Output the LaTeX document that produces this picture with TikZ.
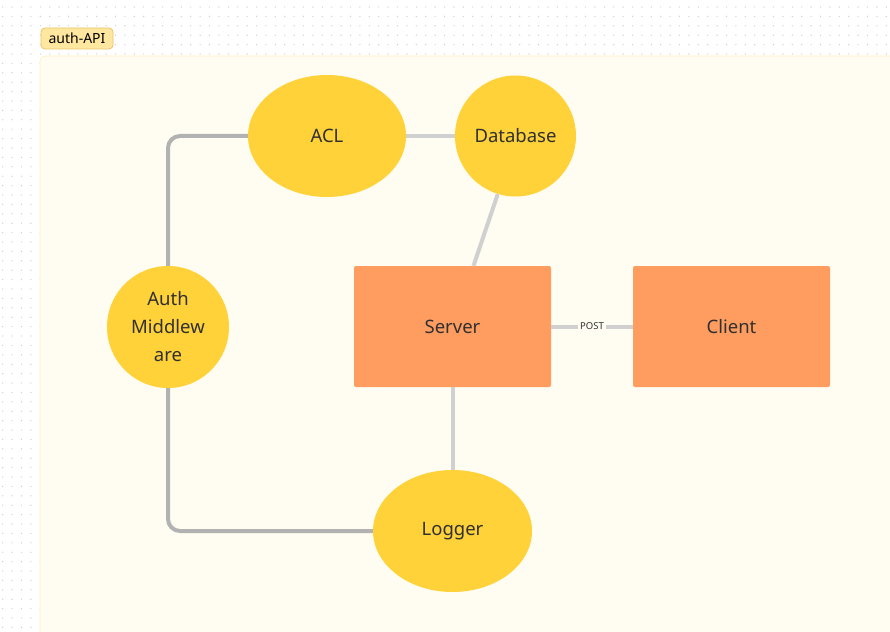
\documentclass[tikz,border=0pt]{standalone}
\usepackage{fontspec}
\setmainfont{Noto Sans}
\usetikzlibrary{shapes.geometric}
\definecolor{dotc}{HTML}{CFCFCF}
\definecolor{framefill}{HTML}{FFFDF1}
\definecolor{frameline}{HTML}{FFF1C2}
\definecolor{tagfill}{HTML}{FFE7A0}
\definecolor{tagline}{HTML}{EBC468}
\definecolor{yel}{HTML}{FFD23A}
\definecolor{ora}{HTML}{FF9D60}
\definecolor{txt}{HTML}{303030}
\definecolor{darkl}{HTML}{B2B2B2}
\definecolor{lightl}{HTML}{D0D0D0}
\tikzset{
  bubble/.style={ellipse, fill=yel, inner sep=0pt, text=txt, font=\fontsize{18.5}{28}\selectfont, align=center},
  boxnode/.style={rectangle, rounded corners=2pt, fill=ora, inner sep=0pt, minimum width=197pt, minimum height=121pt, text=txt, font=\fontsize{18.5}{28}\selectfont},
  darkline/.style={draw=darkl, line width=4pt, rounded corners=12pt},
  lightline/.style={draw=lightl, line width=4pt},
  tag/.style={rectangle, rounded corners=4pt, fill=tagfill, draw=tagline, line width=0.8pt, minimum width=72pt, minimum height=21pt, inner sep=0pt, font=\fontsize{14}{16}\selectfont, text=black},
  edgelabel/.style={fill=framefill, font=\fontsize{9.5}{11}\selectfont, text=txt, inner sep=2pt}
}
\begin{document}
\begin{tikzpicture}[x=1pt,y=-1pt]
\useasboundingbox (0,0) rectangle (890,631);
\fill[white] (0,0) rectangle (890,631);
\foreach \i in {0,...,94} {
  \foreach \j in {0,...,67} {
    \fill[dotc] (2.7+\i*9.4, 7+\j*9.4) circle[radius=0.7pt];
  }
}
\draw[fill=framefill, draw=frameline, line width=0.8pt, rounded corners=6pt] (40,56) rectangle (900,645);
\node[tag] (tag) at (77,38.5) {auth-API};

\node[bubble, minimum width=158pt, minimum height=122pt] (acl) at (327,136) {ACL};
\node[bubble, minimum width=121pt, minimum height=121pt] (db) at (515.5,136) {Database};
\node[bubble, minimum width=122pt, minimum height=122pt] (auth) at (168,327) {Auth\\Middlew\\are};
\node[bubble, minimum width=159pt, minimum height=122pt] (logger) at (452.5,531) {Logger};
\node[boxnode] (server) at (452.5,326.5) {Server};
\node[boxnode] (client) at (731.5,326.5) {Client};

\draw[darkline] (auth.north) |- (acl.west);
\draw[darkline] (auth.south) |- (logger.west);
\draw[lightline] (acl.east) -- (db.west);
\draw[lightline] (db.-107) -- ([xshift=21pt]server.north);
\draw[lightline] (server.south) -- (logger.north);
\draw[lightline] (server.east) -- node[edgelabel] (post) {POST} (client.west);
\end{tikzpicture}
\end{document}
